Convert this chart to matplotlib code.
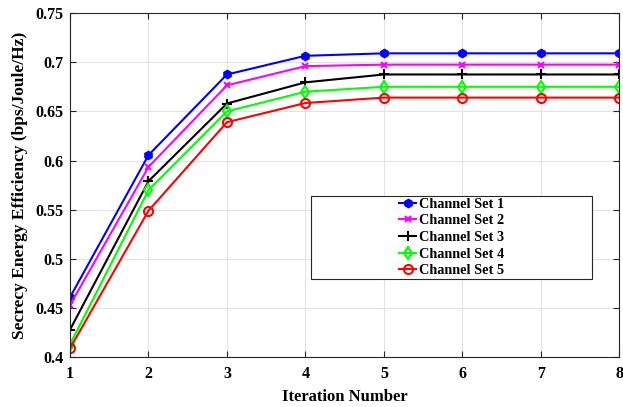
import matplotlib
matplotlib.use("Agg")
import matplotlib.pyplot as plt
from matplotlib.patches import Rectangle

iterations = [1, 2, 3, 4, 5, 6, 7, 8]
set1 = [0.461, 0.6055, 0.6875, 0.7065, 0.709, 0.709, 0.709, 0.709]
set2 = [0.453, 0.5935, 0.6765, 0.696, 0.6975, 0.6975, 0.6975, 0.6975]
set3 = [0.428, 0.579, 0.658, 0.6795, 0.6875, 0.6875, 0.6875, 0.6875]
set4 = [0.413, 0.570, 0.650, 0.670, 0.675, 0.675, 0.675, 0.675]
set5 = [0.409, 0.549, 0.639, 0.6585, 0.664, 0.664, 0.664, 0.664]
labels = ["Channel Set 1", "Channel Set 2", "Channel Set 3", "Channel Set 4", "Channel Set 5"]
yticks = [0.4, 0.45, 0.5, 0.55, 0.6, 0.65, 0.7, 0.75]
yticklabels = ["0.4", "0.45", "0.5", "0.55", "0.6", "0.65", "0.7", "0.75"]

plt.rcParams['font.family'] = ['Liberation Serif', 'DejaVu Serif']
plt.rcParams['font.weight'] = 'bold'

fig = plt.figure(figsize=(6.23, 4.07), dpi=100)
ax = fig.add_axes([70/623, 1 - 357.3/407, (619.3-70)/623, (357.3-13)/407])

styles = [
    dict(color=(0, 0, 1), marker='h', markersize=6, mfc=(0, 0, 1)),
    dict(color=(1, 0, 1), marker='x', markersize=5, mfc='none', mew=1.5),
    dict(color='k', marker='+', markersize=6.5, mfc='none', mew=1.5),
    dict(color=(0, 1, 0), marker='d', markersize=6.5, mfc='none', mew=1.5),
    dict(color=(1, 0, 0), marker='o', markersize=6.5, mfc='none', mew=1.5),
]
series = [set1, set2, set3, set4, set5]
for s, lab, st in zip(series, labels, styles):
    ax.plot(iterations, s, lw=1.5, label=lab, **st)

ax.set_xlim(1, 8)
ax.set_ylim(0.4, 0.75)
ax.set_xticks(iterations)
ax.set_yticks(yticks)
ax.set_yticklabels(yticklabels)
ax.grid(True, color='#e3e3e3', lw=0.8)
ax.set_axisbelow(True)
ax.tick_params(direction='in', top=True, right=True, labelsize=11.5, length=4, color='#262626')
ax.tick_params(axis='x', pad=6.5)
ax.tick_params(axis='y', pad=5)
for sp in ax.spines.values():
    sp.set_color('#262626')
    sp.set_linewidth(0.8)
for t in ax.get_xticklabels() + ax.get_yticklabels():
    t.set_fontweight('bold')
ax.set_xlabel("Iteration Number", fontsize=12, fontweight='bold', labelpad=5)
ax.set_ylabel("Secrecy Energy Efficiency (bps/Joule/Hz)", fontsize=12.5, fontweight='bold', labelpad=5)

# legend box
ax.add_patch(Rectangle((0.4387, 0.227), 0.950 - 0.4387, 0.4685 - 0.227, transform=ax.transAxes,
                       facecolor='white', edgecolor='#262626', lw=0.8, zorder=4))
leg = ax.legend(loc='center', bbox_to_anchor=(0.6945, 0.348), frameon=False,
                prop=dict(weight='bold', size=10.3), labelspacing=0.25, handlelength=1.2,
                handletextpad=0.15, borderpad=0.2)
leg.set_zorder(5)

fig.savefig("out.png", dpi=100)
